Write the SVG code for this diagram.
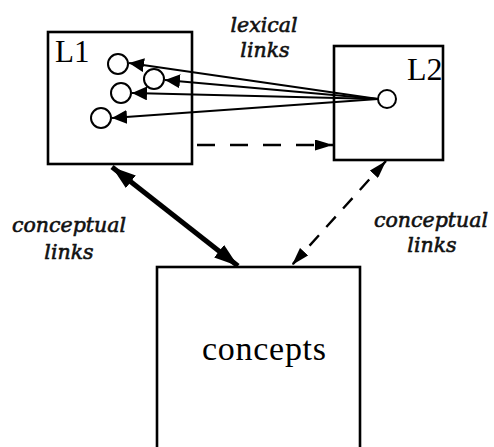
<svg xmlns="http://www.w3.org/2000/svg" width="494" height="447" viewBox="0 0 494 447">
  <style>
    .box { fill: #fff; stroke: #000; stroke-width: 2.6; }
    .node { fill: #fff; stroke: #000; stroke-width: 2; }
    .lbl { font-family: "Liberation Serif", "Times New Roman", serif; fill: #000; }
    .ital { font-family: "DejaVu Serif", "Liberation Serif", serif; font-style: italic; font-size: 20.5px; fill: #111; stroke: #111; stroke-width: 0.6; text-anchor: middle; }
    .thin { stroke: #000; stroke-width: 2; fill: none; }
    .dash { stroke: #000; stroke-width: 2.4; fill: none; }
    .thick { stroke: #000; stroke-width: 5; fill: none; }
  </style>
  <defs>
    <marker id="ah" markerUnits="userSpaceOnUse" viewBox="0 0 15 14" refX="15" refY="7" markerWidth="15" markerHeight="14" orient="auto">
      <path d="M0,0 L15,7 L0,14 Z" fill="#000"/>
    </marker>
    <marker id="ahd" markerUnits="userSpaceOnUse" viewBox="0 0 18 11" refX="18" refY="5.5" markerWidth="18" markerHeight="11" orient="auto-start-reverse">
      <path d="M0,0 L18,5.5 L0,11 Z" fill="#000"/>
    </marker>
    <marker id="aht" markerUnits="userSpaceOnUse" viewBox="0 0 24 16" refX="24" refY="8" markerWidth="24" markerHeight="16" orient="auto-start-reverse">
      <path d="M0,0 L24,8 L0,16 Z" fill="#000"/>
    </marker>
  </defs>

  <g id="L1">
    <rect class="box" x="48" y="32" width="144" height="132"/>
    <text class="lbl" x="55" y="62" font-size="31">L1</text>
    <circle class="node" cx="118" cy="64" r="10"/>
    <circle class="node" cx="154" cy="79" r="10"/>
    <circle class="node" cx="121" cy="93" r="10"/>
    <circle class="node" cx="101" cy="118" r="10"/>
  </g>

  <g id="L2">
    <rect class="box" x="334" y="46" width="109" height="114"/>
    <text class="lbl" x="407" y="80" font-size="32">L2</text>
    <circle class="node" cx="387" cy="99" r="9"/>
  </g>

  <g id="concepts">
    <rect class="box" x="157" y="267" width="203" height="200"/>
    <text class="lbl" x="264" y="360" font-size="34" text-anchor="middle" textLength="124">concepts</text>
  </g>

  <g id="connectors">
    <path class="thin" d="M378,99 L129,63" marker-end="url(#ah)"/>
    <path class="thin" d="M378,99 L165,80" marker-end="url(#ah)"/>
    <path class="thin" d="M378,99 L132,93" marker-end="url(#ah)"/>
    <path class="thin" d="M378,99 L112,118" marker-end="url(#ah)"/>
    <path class="dash" d="M197,145 L333,145" stroke-dasharray="18 15" marker-end="url(#ahd)"/>
    <path class="dash" d="M386,161 L292,265" stroke-dasharray="14 11" marker-start="url(#ahd)" marker-end="url(#ahd)"/>
    <path class="thick" d="M112,167 L238,266" marker-start="url(#aht)" marker-end="url(#aht)"/>
  </g>

  <g id="labels">
    <text class="ital" x="264" y="32">lexical</text>
    <text class="ital" x="265" y="57">links</text>
    <text class="ital" x="69" y="232">conceptual</text>
    <text class="ital" x="69" y="259">links</text>
    <text class="ital" x="431" y="227">conceptual</text>
    <text class="ital" x="432" y="252">links</text>
  </g>
</svg>
